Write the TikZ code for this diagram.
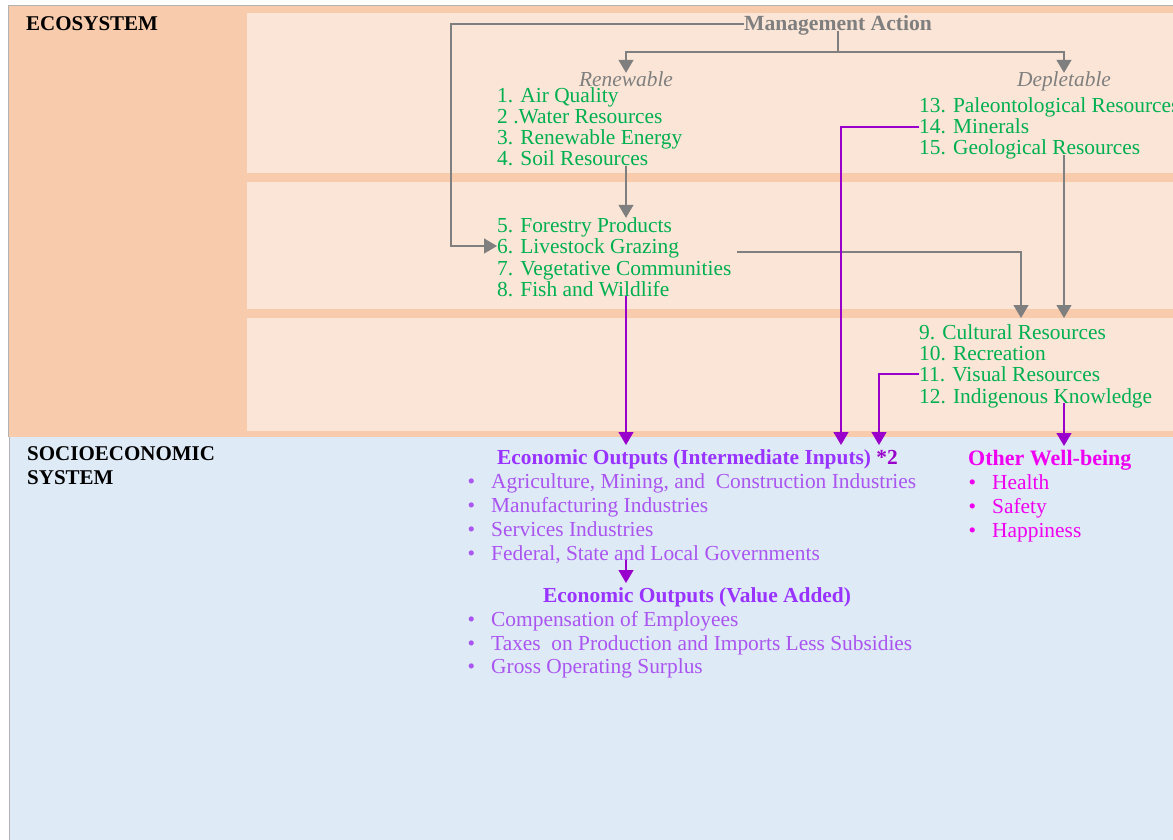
\documentclass[tikz,border=0pt]{standalone}
\usepackage{fontspec}
\setmainfont{Liberation Serif}
\usetikzlibrary{arrows.meta}

\definecolor{ecoOrange}{RGB}{248,203,173}
\definecolor{ecoPanel}{RGB}{251,229,214}
\definecolor{socioBlue}{RGB}{222,234,246}
\definecolor{resGreen}{RGB}{0,176,80}
\definecolor{flowGray}{RGB}{127,127,127}
\definecolor{flowPurple}{RGB}{153,0,204}
\definecolor{outHead}{RGB}{153,51,255}
\definecolor{outItem}{RGB}{170,85,240}
\definecolor{wellMag}{RGB}{240,0,240}

\newcommand{\blt}{\llap{\textbullet\hspace{16pt}}}

\begin{document}
\begin{tikzpicture}[x=1pt,y=-1pt,
  every node/.style={inner sep=0pt,anchor=west,text height=14pt,text depth=0pt,
    font=\fontsize{21.4}{23}\selectfont},
  sys/.style={font=\fontsize{21}{23}\selectfont\bfseries},
  res/.style={text=resGreen},
  cat/.style={anchor=center,text=flowGray,font=\fontsize{21.4}{23}\selectfont\itshape},
  outhead/.style={text=outHead,outer ysep=5pt,font=\fontsize{21.4}{23}\selectfont\bfseries},
  outitem/.style={text=outItem},
  wellhead/.style={text=wellMag,outer ysep=5pt,font=\fontsize{22}{23}\selectfont\bfseries},
  wellitem/.style={text=wellMag},
  grayarrow/.style={draw=flowGray,line width=1.3pt,-{Triangle[width=15pt,length=13pt]}},
  grayline/.style={draw=flowGray,line width=1.3pt},
  purplearrow/.style={draw=flowPurple,line width=1.3pt,-{Triangle[width=15pt,length=13pt]}}]

\useasboundingbox (0,0) rectangle (1173,840);
\fill[white] (0,0) rectangle (1173,840);

% Ecosystem band
\fill[ecoOrange] (8,5) rectangle (1173,437);
\draw[gray!60,line width=0.8pt] (8,437) -- (8,5) -- (1173,5);
\fill[ecoPanel] (247,13) rectangle (1173,173);
\fill[ecoPanel] (247,182) rectangle (1173,309);
\fill[ecoPanel] (247,318) rectangle (1173,431);

% Socioeconomic band
\fill[socioBlue] (9,437) rectangle (1173,840);
\draw[gray!60,line width=0.8pt] (9,437) -- (9,840);

% System labels
\node[sys] (eco) at (26,24) {ECOSYSTEM};
\node[sys] (socio1) at (27,453) {SOCIOECONOMIC};
\node[sys] (socio2) at (27,477) {SYSTEM};

% Management action and resource types
\node[anchor=center,text=flowGray,font=\fontsize{21.6}{23}\selectfont\bfseries] (mgmt) at (838,24) {Management Action};
\node[cat] (ren) at (626,80) {Renewable};
\node[cat] (dep) at (1064,80) {Depletable};

% Renewable resources
\node[res] (r1) at (497,96) {1. Air Quality};
\node[res] (r2) at (497,117) {2 .Water Resources};
\node[res] (r3) at (497,138) {3. Renewable Energy};
\node[res] (r4) at (497,159) {4. Soil Resources};
\node[res] (r5) at (497,225) {5. Forestry Products};
\node[res] (r6) at (497,246) {6. Livestock Grazing};
\node[res] (r7) at (497,268) {7. Vegetative Communities};
\node[res] (r8) at (497,289) {8. Fish and Wildlife};

% Depletable resources
\node[res] (d13) at (919,106) {13. Paleontological Resources};
\node[res] (d14) at (919,127) {14. Minerals};
\node[res] (d15) at (919,148) {15. Geological Resources};

% Cultural resources
\node[res,outer ysep=7pt] (c9) at (919,332) {9. Cultural Resources};
\node[res] (c10) at (919,353) {10. Recreation};
\node[res] (c11) at (919,374) {11. Visual Resources};
\node[res] (c12) at (919,396) {12. Indigenous Knowledge};

% Economic outputs
\node[outhead] (ioHead) at (497,457) {Economic Outputs (Intermediate Inputs) \textcolor{flowPurple}{*2}};
\node[outitem] (io1) at (491,481) {\blt Agriculture, Mining, and\ \ Construction Industries};
\node[outitem] (io2) at (491,505) {\blt Manufacturing Industries};
\node[outitem] (io3) at (491,529) {\blt Services Industries};
\node[outitem] (io4) at (491,553) {\blt Federal, State and Local Governments};
\node[outhead] (vaHead) at (543,595) {Economic Outputs (Value Added)};
\node[outitem] (va1) at (491,619) {\blt Compensation of Employees};
\node[outitem] (va2) at (491,643) {\blt Taxes\ \ on Production and Imports Less Subsidies};
\node[outitem] (va3) at (491,666) {\blt Gross Operating Surplus};

% Other well-being
\node[wellhead] (wbHead) at (968,458) {Other Well-being};
\node[wellitem] (wb1) at (992,482) {\blt Health};
\node[wellitem] (wb2) at (992,506) {\blt Safety};
\node[wellitem] (wb3) at (992,530) {\blt Happiness};

% Gray flows
\coordinate (split) at (838,52);
\coordinate (grzOut) at (737,252);
\coordinate (culIn) at (1021,318);
\draw[grayline] (mgmt.south) -- (split);
\draw[grayarrow] (split) -| (ren.north);
\draw[grayarrow] (split) -| (dep.north);
\draw[grayarrow] (mgmt.west) -| (451,0 |- r6.west) -- (r6.west);
\draw[grayarrow] (r4.south -| ren) -- (r5.north -| ren);
\draw[grayarrow] (grzOut) -| (culIn);
\draw[grayarrow] (d15.south -| dep) -- (c9.north -| dep);

% Purple flows
\draw[purplearrow] (r8.south -| ren) -- (ioHead.north -| ren);
\draw[purplearrow] (d14.west) -| (ioHead.north -| 841,0);
\draw[purplearrow] (c11.west) -| (ioHead.north -| 879,0);
\draw[purplearrow] (c12.south -| dep) -- (wbHead.north -| dep);
\draw[purplearrow] (io4.south -| ren) -- (vaHead.north -| ren);

\end{tikzpicture}
\end{document}
